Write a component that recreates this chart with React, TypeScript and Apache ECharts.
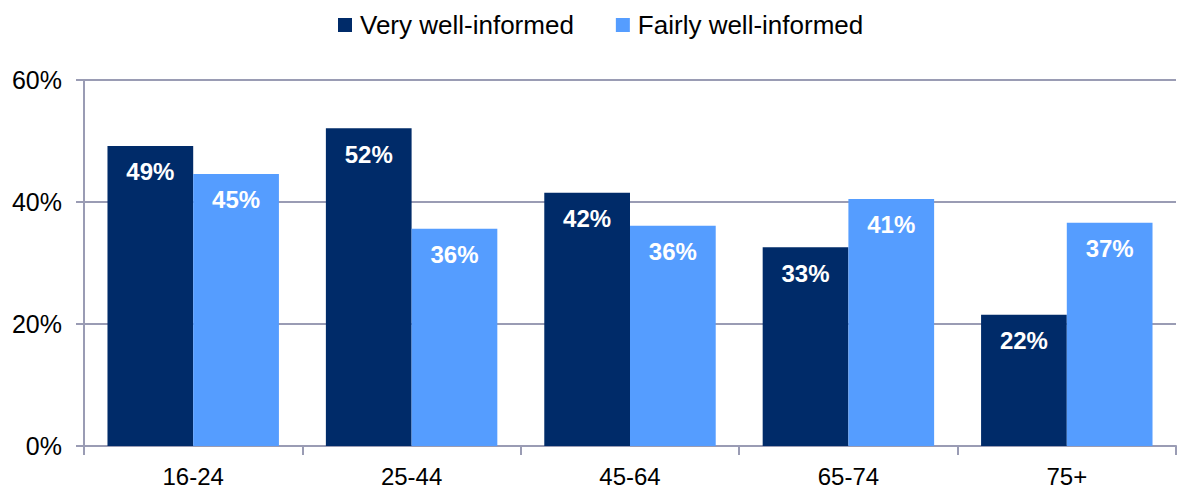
import React, { useEffect, useRef } from "react";
import * as echarts from "echarts";

const categories = ["16-24", "25-44", "45-64", "65-74", "75+"];
const veryWellInformed = [49.2, 52.1, 41.5, 32.6, 21.5];
const fairlyWellInformed = [44.6, 35.6, 36.1, 40.5, 36.6];
const seriesNames = ["Very well-informed", "Fairly well-informed"];
const yTicks = [0, 20, 40, 60];

const AXIS_COLOR = "#9a9cb4";
const FONT = "Liberation Sans, Arial, sans-serif";

export default function App() {
  const ref = useRef<HTMLDivElement>(null);
  useEffect(() => {
    if (!ref.current) return;
    const chart = echarts.init(ref.current, null, { renderer: "svg" });
    const label = {
      show: true,
      position: "insideTop",
      distance: 14,
      color: "#ffffff",
      fontWeight: "bold",
      fontSize: 24,
      fontFamily: FONT,
      formatter: (p: any) => Math.round(p.value) + "%",
    };
    chart.setOption({
      animation: false,
      backgroundColor: "#ffffff",
      legend: {
        top: 7,
        left: 333,
        itemWidth: 14,
        itemHeight: 14,
        itemGap: 42,
        icon: "rect",
        textStyle: { fontSize: 26, fontFamily: FONT, color: "#000000", padding: [0, 0, 0, 3] },
        data: seriesNames,
      },
      grid: { left: 84, right: 6, top: 80, bottom: 45 },
      xAxis: {
        type: "category",
        data: categories,
        axisLine: { show: true, lineStyle: { color: AXIS_COLOR, width: 2 } },
        axisTick: { show: true, length: 9, alignWithLabel: false, lineStyle: { color: AXIS_COLOR, width: 2 } },
        axisLabel: { fontSize: 24, fontFamily: FONT, color: "#000000", margin: 18 },
      },
      yAxis: {
        type: "value",
        min: yTicks[0],
        max: yTicks[yTicks.length - 1],
        interval: 20,
        axisLine: { show: true, lineStyle: { color: AXIS_COLOR, width: 2 } },
        axisTick: { show: true, length: 8, lineStyle: { color: AXIS_COLOR, width: 2 } },
        splitLine: { show: true, lineStyle: { color: AXIS_COLOR, width: 2 } },
        axisLabel: {
          fontSize: 25,
          fontFamily: FONT,
          color: "#000000",
          margin: 22,
          formatter: (v: number) => v + "%",
        },
      },
      series: [
        {
          name: seriesNames[0],
          type: "bar",
          data: veryWellInformed,
          itemStyle: { color: "#002b69" },
          barGap: "0%",
          barCategoryGap: "21.5%",
          label,
        },
        {
          name: seriesNames[1],
          type: "bar",
          data: fairlyWellInformed,
          itemStyle: { color: "#559dff" },
          barGap: "0%",
          barCategoryGap: "21.5%",
          label,
        },
      ],
    });
    return () => chart.dispose();
  }, []);
  return (
    <div
      ref={ref}
      style={{ position: "fixed", left: 0, top: 0, width: 1182, height: 491, background: "#fff" }}
    />
  );
}
